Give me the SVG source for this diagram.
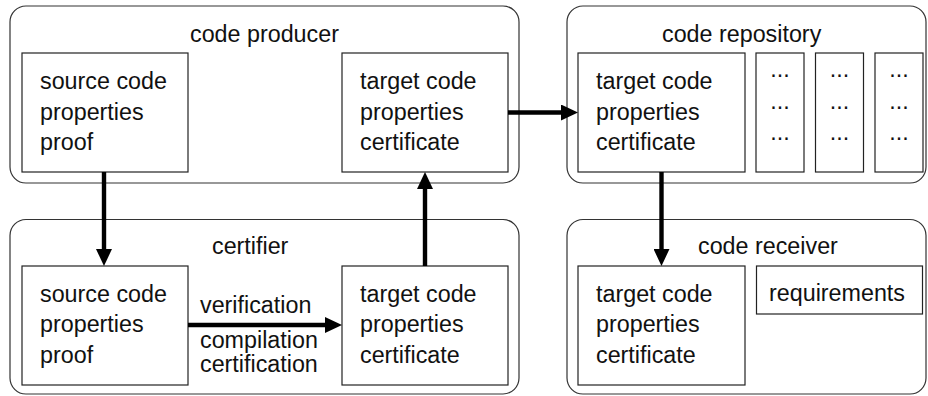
<svg xmlns="http://www.w3.org/2000/svg" width="928" height="396" viewBox="0 0 928 396">
  <style>
    .group { fill: #ffffff; stroke: #333333; stroke-width: 1.2; }
    .box { fill: #ffffff; stroke: #222222; stroke-width: 1.2; }
    text { font-family: "Liberation Sans", Arial, sans-serif; font-size: 23.3px; fill: #111111; }
    .dots { text-anchor: middle; }
    .conn { stroke: #000000; stroke-width: 4.4; fill: none; marker-end: url(#head); }
  </style>
  <defs>
    <marker id="head" markerUnits="userSpaceOnUse" markerWidth="17" markerHeight="16" refX="7" refY="8" orient="auto">
      <path d="M0,0 L17,8 L0,16 z" fill="#000000"/>
    </marker>
  </defs>
  <rect width="928" height="396" fill="#ffffff"/>

  <!-- code producer -->
  <g id="code-producer">
    <rect class="group" x="10" y="6" width="509" height="177" rx="16" ry="16"/>
    <text x="190" y="42">code producer</text>
    <g id="producer-source">
      <rect class="box" x="22" y="53" width="166" height="119"/>
      <text x="40" y="89">source code</text>
      <text x="40" y="119.5">properties</text>
      <text x="40" y="150">proof</text>
    </g>
    <g id="producer-target">
      <rect class="box" x="342" y="53" width="166" height="119"/>
      <text x="360" y="89">target code</text>
      <text x="360" y="119.5">properties</text>
      <text x="360" y="150">certificate</text>
    </g>
  </g>

  <!-- code repository -->
  <g id="code-repository">
    <rect class="group" x="567" y="6" width="359" height="177" rx="16" ry="16"/>
    <text x="662" y="42">code repository</text>
    <g id="repository-target">
      <rect class="box" x="578" y="53" width="167" height="119"/>
      <text x="596" y="89">target code</text>
      <text x="596" y="119.5">properties</text>
      <text x="596" y="150">certificate</text>
    </g>
    <g id="repository-more-1">
      <rect class="box" x="756" y="53" width="48" height="119"/>
      <text class="dots" x="780" y="77">...</text>
      <text class="dots" x="780" y="108.5">...</text>
      <text class="dots" x="780" y="140">...</text>
    </g>
    <g id="repository-more-2">
      <rect class="box" x="815.5" y="53" width="48" height="119"/>
      <text class="dots" x="839.5" y="77">...</text>
      <text class="dots" x="839.5" y="108.5">...</text>
      <text class="dots" x="839.5" y="140">...</text>
    </g>
    <g id="repository-more-3">
      <rect class="box" x="875" y="53" width="48" height="119"/>
      <text class="dots" x="899" y="77">...</text>
      <text class="dots" x="899" y="108.5">...</text>
      <text class="dots" x="899" y="140">...</text>
    </g>
  </g>

  <!-- certifier -->
  <g id="certifier">
    <rect class="group" x="10" y="219.5" width="509" height="174.5" rx="16" ry="16"/>
    <text x="212" y="254">certifier</text>
    <g id="certifier-source">
      <rect class="box" x="22" y="266" width="166" height="119"/>
      <text x="40" y="302">source code</text>
      <text x="40" y="332">properties</text>
      <text x="40" y="362.5">proof</text>
    </g>
    <g id="certifier-target">
      <rect class="box" x="342" y="266" width="166" height="119"/>
      <text x="360" y="302">target code</text>
      <text x="360" y="332">properties</text>
      <text x="360" y="362.5">certificate</text>
    </g>
  </g>

  <!-- code receiver -->
  <g id="code-receiver">
    <rect class="group" x="567" y="219.5" width="359" height="174.5" rx="16" ry="16"/>
    <text x="698" y="254">code receiver</text>
    <g id="receiver-target">
      <rect class="box" x="578" y="266" width="167" height="119"/>
      <text x="596" y="302">target code</text>
      <text x="596" y="332">properties</text>
      <text x="596" y="362.5">certificate</text>
    </g>
    <g id="receiver-requirements">
      <rect class="box" x="756.5" y="266" width="166" height="48"/>
      <text x="769" y="301">requirements</text>
    </g>
  </g>

  <!-- connectors -->
  <g id="connectors">
    <line class="conn" x1="508" y1="112.5" x2="568" y2="112.5"/>
    <line class="conn" x1="104" y1="172" x2="104" y2="256"/>
    <line class="conn" x1="188" y1="325" x2="332" y2="325"/>
    <line class="conn" x1="425" y1="266" x2="425" y2="182"/>
    <line class="conn" x1="661.5" y1="172" x2="661.5" y2="256"/>
    <text x="200" y="313">verification</text>
    <text x="200" y="348">compilation</text>
    <text x="200" y="371.5">certification</text>
  </g>
</svg>
